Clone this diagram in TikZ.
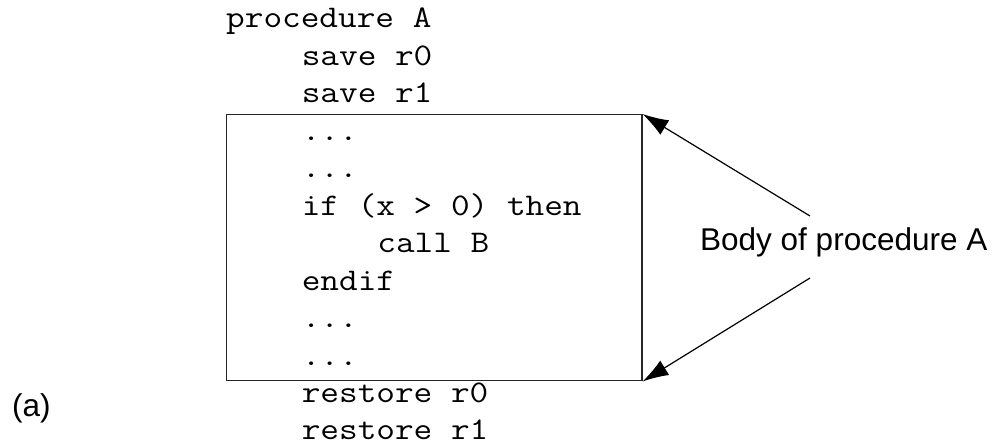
\documentclass[tikz,border=0pt]{standalone}
\usepackage{fontspec}
\setmainfont{Liberation Sans}
\setmonofont{Latin Modern Mono}[FakeStretch=1.15]
\usetikzlibrary{arrows.meta}
\begin{document}
\begin{tikzpicture}[x=1pt,y=-1pt,
  code/.style={anchor=base west,inner sep=0pt,font=\ttfamily\fontsize{31.5}{37}\selectfont},
  lbl/.style={anchor=base west,inner sep=0pt,font=\fontsize{31.5}{37}\selectfont},
  bodybox/.style={draw=black!85,line width=1.5pt,inner sep=0pt,anchor=north west},
  pointer/.style={line width=1.2pt,-{Latex[length=26pt,width=17pt]}}]
\useasboundingbox (0,0) rectangle (997,446);
\node[bodybox,minimum width=415.5pt,minimum height=266pt] (box) at (225.5,114) {};
\node[code] (l1) at (226,28) {procedure A};
\node[code] (l2) at (301.6,65.5) {save r0};
\node[code] (l3) at (301.6,102.9) {save r1};
\node[code] (l4) at (301.6,140.4) {...};
\node[code] (l5) at (301.6,177.8) {...};
\node[code] (l6) at (301.6,215.3) {if (x > 0) then};
\node[code] (l7) at (377.2,252.7) {call B};
\node[code] (l8) at (301.6,290.2) {endif};
\node[code] (l9) at (301.6,327.6) {...};
\node[code] (l10) at (301.6,365.1) {...};
\node[code] (l11) at (301.6,402.5) {restore r0};
\node[code] (l12) at (301.6,440) {restore r1};
\node[lbl] (body) at (700,251) {Body of procedure A};
\node[lbl] (tag) at (12,417) {(a)};
\coordinate (s1) at (810,216);
\coordinate (s2) at (810,278);
\draw[pointer] (s1) -- (box.north east);
\draw[pointer] (s2) -- (box.south east);
\end{tikzpicture}
\end{document}
